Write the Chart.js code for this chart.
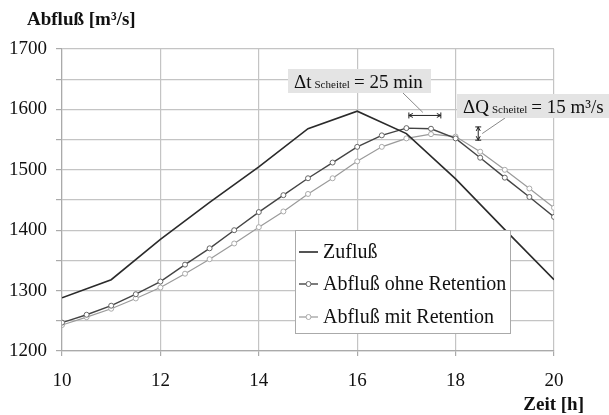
<!DOCTYPE html>
<html><head><meta charset="utf-8">
<script src="https://cdn.jsdelivr.net/npm/chart.js@4"></script>
<style>html,body{margin:0;padding:0;background:#fff}#wrap{width:609px;height:415px;position:relative}</style>
</head><body><div id="wrap"><canvas id="c" width="609" height="415"></canvas></div>
<script>
const zuflussTimes = [10,11,12,13,14,15,16,17,18,19,20];
const zuflussValues = [1288,1318,1385,1446,1505,1568,1597,1560,1485,1401,1318];
const abflussTimes = [10,10.5,11,11.5,12,12.5,13,13.5,14,14.5,15,15.5,16,16.5,17,17.5,18,18.5,19,19.5,20];
const ohneRetention = [1247,1260,1275,1294,1315,1343,1370,1400,1430,1458,1486,1512,1538,1557,1569,1568,1552,1520,1487,1455,1422];
const mitRetention = [1243,1256,1270,1287,1305,1328,1352,1378,1405,1431,1460,1486,1514,1538,1552,1559,1555,1530,1500,1469,1437];
const seriesNames = ['Zufluß','Abfluß ohne Retention','Abfluß mit Retention'];
const yTitle = 'Abfluß [m³/s]';
const xTitle = 'Zeit [h]';
const dtLabel = ['Δt', 'Scheitel', '= 25 min'];
const dqLabel = ['ΔQ', 'Scheitel', '= 15 m³/s'];
const dtArrow = {x1:17.05, x2:17.7, y:1590};
const dqArrow = {x:18.46, y1:1571, y2:1549};

const pts = (xs, ys) => xs.map((x,i)=>({x, y:ys[i]}));
const SERIF = '"Liberation Serif", "Times New Roman", serif';

const decor = {
  id:'decor',
  afterDraw(chart){
    const ctx = chart.ctx, xs = chart.scales.x, ys = chart.scales.y;
    ctx.save();
    ctx.fillStyle = '#111';
    ctx.font = 'bold 19px ' + SERIF;
    ctx.textBaseline = 'middle';
    ctx.textAlign = 'left';
    ctx.fillText(yTitle, 27, 20);
    ctx.textAlign = 'right';
    ctx.fillText(xTitle, 584, 405);

    ctx.strokeStyle = '#222'; ctx.lineWidth = 1;
    const ax1 = xs.getPixelForValue(dtArrow.x1), ax2 = xs.getPixelForValue(dtArrow.x2), ay = ys.getPixelForValue(dtArrow.y);
    ctx.beginPath(); ctx.moveTo(ax1, ay); ctx.lineTo(ax2, ay);
    ctx.moveTo(ax1, ay-3); ctx.lineTo(ax1, ay+3);
    ctx.moveTo(ax2, ay-3); ctx.lineTo(ax2, ay+3);
    ctx.moveTo(ax1+4, ay-2); ctx.lineTo(ax1, ay); ctx.lineTo(ax1+4, ay+2);
    ctx.moveTo(ax2-4, ay-2); ctx.lineTo(ax2, ay); ctx.lineTo(ax2-4, ay+2);
    ctx.stroke();
    const vx = xs.getPixelForValue(dqArrow.x), vy1 = ys.getPixelForValue(dqArrow.y1), vy2 = ys.getPixelForValue(dqArrow.y2);
    ctx.beginPath(); ctx.moveTo(vx, vy1); ctx.lineTo(vx, vy2);
    ctx.moveTo(vx-3, vy1); ctx.lineTo(vx+3, vy1);
    ctx.moveTo(vx-3, vy2); ctx.lineTo(vx+3, vy2);
    ctx.moveTo(vx-2, vy1+4); ctx.lineTo(vx, vy1); ctx.lineTo(vx+2, vy1+4);
    ctx.moveTo(vx-2, vy2-4); ctx.lineTo(vx, vy2); ctx.lineTo(vx+2, vy2-4);
    ctx.stroke();
    ctx.strokeStyle = '#888';
    ctx.beginPath(); ctx.moveTo(403, 93); ctx.lineTo((ax1+ax2)/2 - 2, ay - 3); ctx.stroke();
    ctx.beginPath(); ctx.moveTo(505, 118); ctx.lineTo(vx + 4, (vy1+vy2)/2); ctx.stroke();

    function labelBox(parts, x, y, w, h){
      ctx.fillStyle = '#e4e4e4';
      ctx.fillRect(x, y, w, h);
      ctx.fillStyle = '#111';
      ctx.textAlign = 'left'; ctx.textBaseline = 'alphabetic';
      let cx = x + 6; const by = y + h - 5;
      ctx.font = '19px ' + SERIF; ctx.fillText(parts[0], cx, by); cx += ctx.measureText(parts[0]).width + 3;
      ctx.font = '11px ' + SERIF; ctx.fillText(parts[1], cx, by); cx += ctx.measureText(parts[1]).width + 4;
      ctx.font = '19px ' + SERIF; ctx.fillText(parts[2], cx, by);
    }
    labelBox(dtLabel, 288, 69, 143, 24);
    labelBox(dqLabel, 457, 94, 152, 24);

    ctx.fillStyle = '#fff';
    ctx.fillRect(295, 230, 215, 103);
    ctx.strokeStyle = '#aaa'; ctx.lineWidth = 1;
    ctx.strokeRect(295.5, 230.5, 215, 103);
    const rows = [252, 284, 317];
    const ds = chart.data.datasets;
    rows.forEach((ry, i) => {
      const d = ds[i];
      ctx.strokeStyle = d.borderColor; ctx.lineWidth = d.borderWidth;
      ctx.beginPath(); ctx.moveTo(299, ry); ctx.lineTo(318, ry); ctx.stroke();
      if (d.pointRadius > 0) {
        ctx.fillStyle = '#fff'; ctx.lineWidth = 1; ctx.strokeStyle = d.pointBorderColor;
        ctx.beginPath(); ctx.arc(308.5, ry, d.pointRadius, 0, Math.PI*2); ctx.fill(); ctx.stroke();
      }
      ctx.fillStyle = '#111'; ctx.font = '20px ' + SERIF; ctx.textAlign = 'left'; ctx.textBaseline = 'middle';
      ctx.fillText(seriesNames[i], 323, ry + 1);
    });
    ctx.restore();
  }
};

new Chart(document.getElementById('c'), {
  type: 'line',
  data: {
    datasets: [
      {label: seriesNames[0], data: pts(zuflussTimes, zuflussValues), borderColor:'#2a2a2a', borderWidth:1.6, pointRadius:0, tension:0},
      {label: seriesNames[1], data: pts(abflussTimes, ohneRetention), borderColor:'#444', borderWidth:1.4, pointRadius:2.5, pointStyle:'circle', pointBackgroundColor:'#fff', pointBorderColor:'#666', pointBorderWidth:1, tension:0},
      {label: seriesNames[2], data: pts(abflussTimes, mitRetention), borderColor:'#9a9a9a', borderWidth:1.2, pointRadius:2.5, pointStyle:'circle', pointBackgroundColor:'#fff', pointBorderColor:'#aaa', pointBorderWidth:1, tension:0}
    ]
  },
  options: {
    responsive:false, animation:false,
    layout:{padding:{left:0, top:49, right:55, bottom:0}},
    plugins:{legend:{display:false}, tooltip:{enabled:false}},
    scales:{
      x:{type:'linear', min:10, max:20,
        ticks:{stepSize:2, color:'#111', font:{family:SERIF, size:19}, padding:14, maxRotation:0},
        grid:{color:'#c4c4c4', lineWidth:1.2, tickLength:5, drawTicks:true, tickColor:'#aaa'},
        border:{color:'#aaa', width:1.2},
        afterFit(s){ s.height = 64; }
      },
      y:{min:1200, max:1700,
        ticks:{stepSize:50, color:'#111', font:{family:SERIF, size:19}, padding:9,
          callback:(v)=> (v % 100 === 0 ? String(v) : '')},
        grid:{color:'#c4c4c4', lineWidth:1.2, tickLength:6, tickColor:'#aaa'},
        border:{color:'#aaa', width:1.2},
        afterFit(s){ s.width = 62; }
      }
    }
  },
  plugins:[decor]
});
</script></body></html>
